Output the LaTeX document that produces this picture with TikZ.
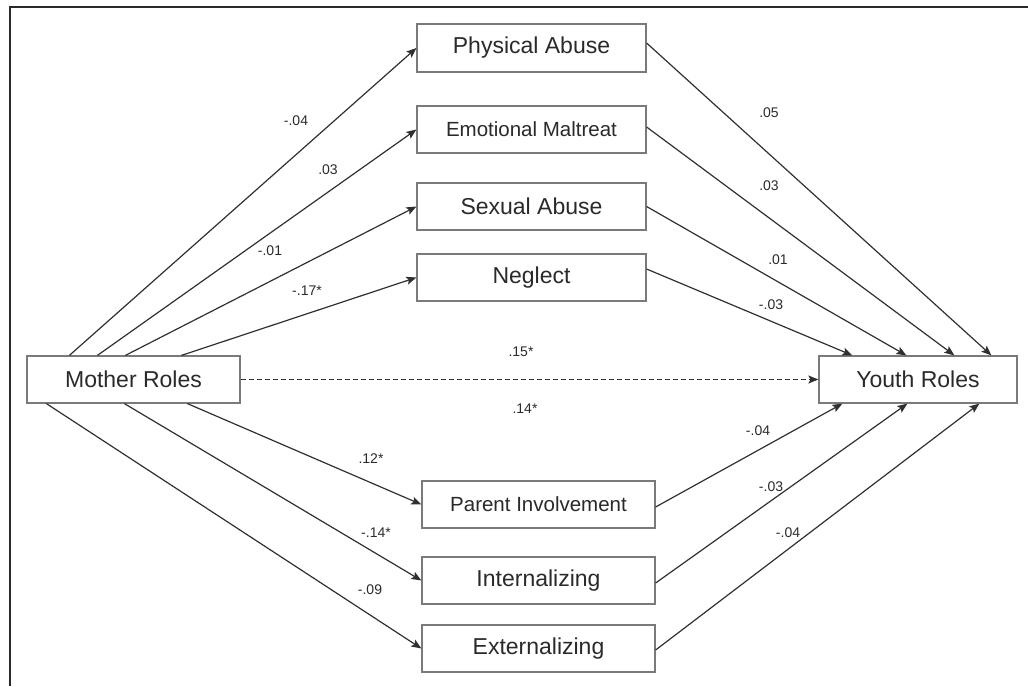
\documentclass[tikz,border=0pt]{standalone}
\usepackage{fontspec}
\setmainfont{Liberation Sans}
\usetikzlibrary{arrows.meta}
\definecolor{ink}{HTML}{2A2A2A}
\definecolor{boxline}{HTML}{7A7A7A}
\definecolor{wire}{HTML}{303030}
\begin{document}
\begin{tikzpicture}[x=1pt,y=-1pt,
  varbox/.style={draw=boxline,line width=1.2pt,fill=white,inner sep=0pt,
    minimum width=229pt,minimum height=47pt,text=ink,font=\fontsize{23}{26}\selectfont},
  smallbox/.style={varbox,font=\fontsize{20.5}{24}\selectfont},
  path/.style={draw=wire,line width=1.2pt,-{Stealth[length=10pt,width=8pt,inset=2pt]}},
  coef/.style={text=ink,font=\fontsize{14}{16}\selectfont,inner sep=0pt}]
\useasboundingbox (0,0) rectangle (1028,686);
\draw[ink,line width=2pt] (1028,7) -- (10,7) -- (10,686);

\node[varbox,minimum width=213pt] (M) at (133.5,379.5) {Mother Roles};
\node[varbox,minimum width=198pt] (Y) at (918,379.5) {Youth Roles};
\node[varbox,minimum height=48pt] (PA) at (531.5,48) {Physical Abuse};
\node[smallbox] (EM) at (531.5,129.5) {Emotional Maltreat};
\node[varbox] (SA) at (531.5,206.5) {Sexual Abuse};
\node[varbox] (NG) at (531.5,277.5) {Neglect};
\node[smallbox,minimum width=233pt] (PI) at (538.5,504.5) {Parent Involvement};
\node[varbox,minimum width=233pt] (IN) at (538.5,580.5) {Internalizing};
\node[varbox,minimum width=233pt] (EX) at (538.5,648.5) {Externalizing};

% Mother -> mediators
\draw[path] ([xshift=43pt]M.north west) -- (PA.west);
\draw[path] ([xshift=71pt]M.north west) -- (EM.west);
\draw[path] ([xshift=99pt]M.north west) -- (SA.west);
\draw[path] ([xshift=155pt]M.north west) -- (NG.west);
\draw[path] ([xshift=161pt]M.south west) -- (PI.west);
\draw[path] ([xshift=98pt]M.south west) -- (IN.west);
\draw[path] ([xshift=20pt]M.south west) -- (EX.west);

% mediators -> Youth
\draw[path] ([yshift=5pt]PA.east) -- ([xshift=173pt]Y.north west);
\draw[path] ([yshift=2.5pt]EM.east) -- ([xshift=136pt]Y.north west);
\draw[path] (SA.east) -- ([xshift=88pt]Y.north west);
\draw[path] ([yshift=8.5pt]NG.east) -- ([xshift=34pt]Y.north west);
\draw[path] ([yshift=-2.5pt]PI.east) -- ([xshift=24pt]Y.south west);
\draw[path] ([yshift=-2.5pt]IN.east) -- ([xshift=89pt]Y.south west);
\draw[path] ([yshift=-1.5pt]EX.east) -- ([xshift=161pt]Y.south west);

% direct
\draw[path,dashed,dash pattern=on 5pt off 3pt] (M.east) -- (Y.west);

% coefficients
\node[coef] (c1) at (296,121) {-.04};
\node[coef] (c2) at (328,170) {.03};
\node[coef] (c3) at (270,251) {-.01};
\node[coef] (c4) at (307,291) {-.17*};
\node[coef] (c5) at (521,352) {.15*};
\node[coef] (c6) at (525,409) {.14*};
\node[coef] (c7) at (371,459) {.12*};
\node[coef] (c8) at (376,533) {-.14*};
\node[coef] (c9) at (370,590) {-.09};
\node[coef] (d1) at (769,113) {.05};
\node[coef] (d2) at (769,186) {.03};
\node[coef] (d3) at (778,260) {.01};
\node[coef] (d4) at (771,305) {-.03};
\node[coef] (d5) at (758,431) {-.04};
\node[coef] (d6) at (771,487) {-.03};
\node[coef] (d7) at (788,533) {-.04};
\end{tikzpicture}
\end{document}
